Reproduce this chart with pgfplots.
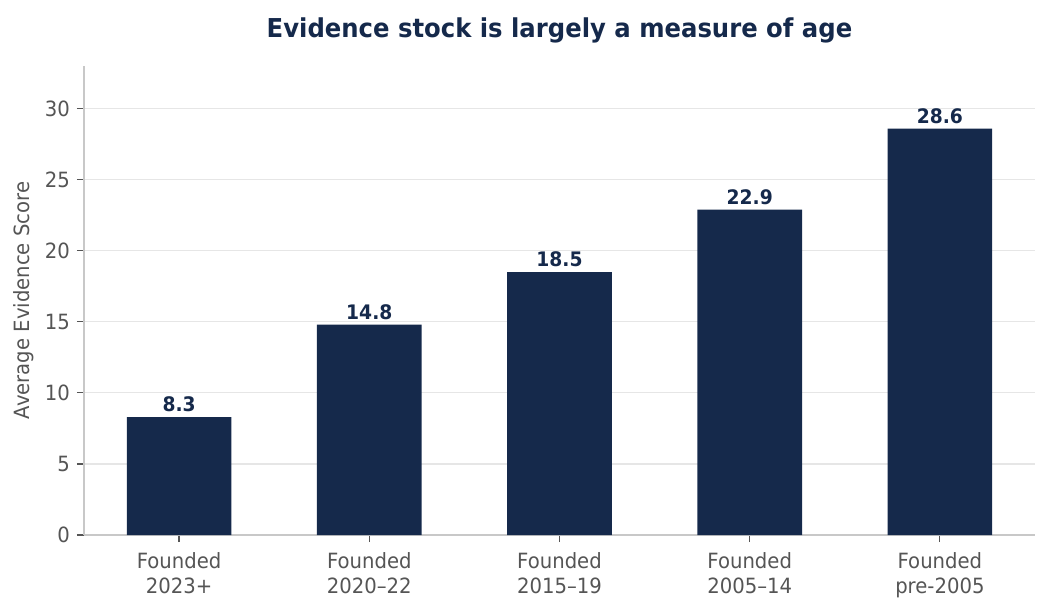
\documentclass[border=0pt]{standalone}
\usepackage{fontspec}
\setmainfont{DejaVu Sans}[FakeStretch=0.935]
\usepackage{pgfplots}
\pgfplotsset{compat=1.18}

\definecolor{navy}{HTML}{15294B}
\definecolor{txtgray}{HTML}{555555}
\definecolor{spinegray}{HTML}{C8C8C8}
\definecolor{gridgray}{HTML}{E6E6E6}

\begin{document}
\begin{tikzpicture}
% fix the page to the reference size (1 px = 0.5pt)
\useasboundingbox (-42pt,-40.5pt) rectangle (483pt,267.5pt);
\begin{axis}[
    scale only axis,
    width=475.5pt,
    height=234.5pt,
    ybar,
    bar width=0.55,
    xmin=-0.5, xmax=4.5,
    ymin=0, ymax=33,
    xtick=data,
    xticklabels={{Founded\\2023+},{Founded\\2020–22},{Founded\\2015–19},{Founded\\2005–14},{Founded\\pre-2005}},
    ytick={0,5,10,15,20,25,30},
    axis x line*=bottom,
    axis y line*=left,
    axis line style={draw=spinegray, line width=0.8pt},
    tick align=outside,
    major tick length=3.5pt,
    tick style={draw=txtgray, line width=0.6pt},
    ymajorgrids,
    major grid style={draw=gridgray, line width=0.6pt},
    /pgf/number format/assume math mode=true,
    ticklabel style={font=\fontsize{10.5}{12.5}\selectfont, text=txtgray},
    xticklabel style={align=center, yshift=-1.5pt},
    ylabel={Average Evidence Score},
    ylabel style={font=\fontsize{10.5}{12}\selectfont, text=txtgray, at={(axis description cs:-0.063,0.5)}, anchor=center},
    title={Evidence stock is largely a measure of age},
    title style={font=\fontsize{13}{15}\bfseries, text=navy, at={(0.5,1)}, anchor=base, yshift=8pt},
    nodes near coords,
    nodes near coords style={font=\fontsize{10}{12}\bfseries, text=navy, yshift=-1pt,
        /pgf/number format/.cd, fixed, fixed zerofill, precision=1},
]
\addplot[fill=navy, draw=none] coordinates {(0,8.3) (1,14.8) (2,18.5) (3,22.9) (4,28.6)};
\end{axis}
\end{tikzpicture}
\end{document}
